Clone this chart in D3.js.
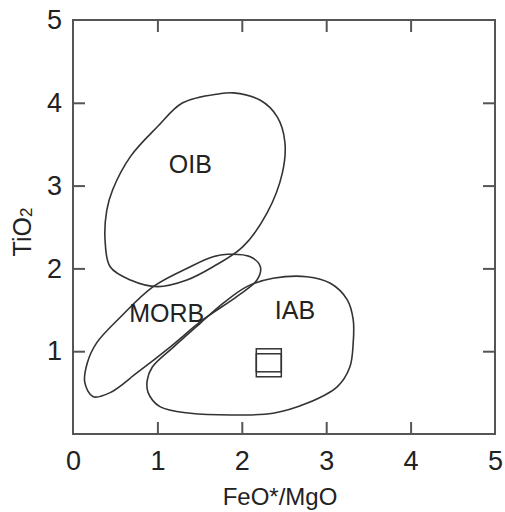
<!DOCTYPE html>
<html>
<head>
<meta charset="utf-8">
<script src="https://cdn.jsdelivr.net/npm/d3@7"></script>
<style>
  body { margin: 0; background: #fff; }
  text { font-family: "Liberation Sans", Arial, sans-serif; fill: #222; }
</style>
</head>
<body>
<div id="chart"></div>
<script>
const width = 505,
  height = 512,
  margin = { top: 20, bottom: 78, left: 73, right: 10 };

// field outlines, FeO*/MgO vs TiO2
const oib = [
  [1.90, 4.12], [2.22, 4.03], [2.42, 3.83], [2.51, 3.53], [2.48, 3.15],
  [2.30, 2.67], [2.01, 2.26], [1.66, 2.02], [1.35, 1.86], [1.00, 1.78],
  [0.68, 1.86], [0.44, 2.02], [0.38, 2.34], [0.40, 2.70], [0.47, 2.95],
  [0.68, 3.35], [1.00, 3.71], [1.30, 4.00], [1.74, 4.11]
];
const morb = [
  [1.83, 2.17], [2.10, 2.14], [2.22, 2.02], [2.18, 1.86], [1.94, 1.66],
  [1.54, 1.38], [1.15, 1.05], [0.76, 0.74], [0.44, 0.50], [0.24, 0.45],
  [0.14, 0.62], [0.17, 0.86], [0.28, 1.10], [0.56, 1.41], [0.95, 1.78],
  [1.39, 2.02], [1.66, 2.14]
];
const iab = [
  [0.94, 0.81], [1.19, 1.05], [1.51, 1.34], [1.78, 1.58], [2.06, 1.78],
  [2.37, 1.88], [2.77, 1.90], [3.05, 1.82], [3.25, 1.62], [3.32, 1.38],
  [3.32, 1.10], [3.28, 0.81], [3.13, 0.57], [2.77, 0.37], [2.37, 0.25],
  [1.98, 0.23], [1.39, 0.25], [1.03, 0.33], [0.89, 0.50], [0.88, 0.65]
];
const fieldLabels = [
  { name: "OIB", x: 1.39, y: 3.15 },
  { name: "MORB", x: 1.11, y: 1.35 },
  { name: "IAB", x: 2.63, y: 1.39 }
];
const samples = [
  [2.32, 0.89],
  [2.32, 0.83]
];
const xTicks = [0, 1, 2, 3, 4, 5];
const yTicks = [1, 2, 3, 4, 5];
const innerTicks = [1, 2, 3, 4];

const svg = d3.select("#chart")
  .append("svg")
  .attr("width", width)
  .attr("height", height);

const x = d3.scaleLinear().domain([0, 5]).range([margin.left, 495]);
const y = d3.scaleLinear().domain([0, 5]).range([434, margin.top]);

const frameColor = "#555";
const fmt = d3.format("d");

// frame
svg.append("rect")
  .attr("x", x(0))
  .attr("y", y(5))
  .attr("width", x(5) - x(0))
  .attr("height", y(0) - y(5))
  .attr("fill", "none")
  .attr("stroke", frameColor)
  .attr("stroke-width", 2);

function styleAxis(g) {
  g.select(".domain").remove();
  g.selectAll(".tick line").attr("stroke", frameColor).attr("stroke-width", 2);
  g.selectAll(".tick text").attr("font-size", 27).attr("fill", "#222");
}

// bottom: labels 0..5, ticks only 1..4
svg.append("g")
  .attr("transform", `translate(0,${y(0)})`)
  .call(d3.axisBottom(x).tickValues(xTicks).tickFormat(fmt).tickSizeInner(-12).tickSizeOuter(0).tickPadding(17))
  .call(styleAxis)
  .call(g => g.selectAll(".tick line").filter(d => d === 0 || d === 5).remove());

svg.append("g")
  .attr("transform", `translate(${x(0)},0)`)
  .call(d3.axisLeft(y).tickValues(yTicks).tickFormat(fmt).tickSizeInner(-12).tickSizeOuter(0).tickPadding(11))
  .call(styleAxis)
  .call(g => g.selectAll(".tick line").filter(d => d === 5).remove());

svg.append("g")
  .attr("transform", `translate(0,${y(5)})`)
  .call(d3.axisTop(x).tickValues(innerTicks).tickSizeInner(-12).tickSizeOuter(0).tickFormat(""))
  .call(styleAxis);

svg.append("g")
  .attr("transform", `translate(${x(5)},0)`)
  .call(d3.axisRight(y).tickValues(innerTicks).tickSizeInner(-12).tickSizeOuter(0).tickFormat(""))
  .call(styleAxis);

// axis titles
svg.append("text")
  .attr("x", (x(0) + x(5)) / 2 - 4)
  .attr("y", 505)
  .attr("text-anchor", "middle")
  .attr("font-size", 24)
  .text("FeO*/MgO");

const yTitle = svg.append("text")
  .attr("transform", `translate(31,${(y(0) + y(5)) / 2 + 5}) rotate(-90)`)
  .attr("text-anchor", "middle")
  .attr("font-size", 25);
yTitle.append("tspan").text("TiO");
yTitle.append("tspan").attr("font-size", 17).attr("dy", 1).text("2");

// fields
const line = d3.line()
  .x(d => x(d[0]))
  .y(d => y(d[1]))
  .curve(d3.curveCatmullRomClosed.alpha(0.5));

svg.selectAll("path.field")
  .data([oib, morb, iab])
  .join("path")
  .attr("class", "field")
  .attr("d", line)
  .attr("fill", "none")
  .attr("stroke", "#333")
  .attr("stroke-width", 1.6);

svg.selectAll("text.label")
  .data(fieldLabels)
  .join("text")
  .attr("class", "label")
  .attr("x", d => x(d.x))
  .attr("y", d => y(d.y))
  .attr("text-anchor", "middle")
  .attr("font-size", 25)
  .text(d => d.name);

// samples
svg.selectAll("rect.sample")
  .data(samples)
  .join("rect")
  .attr("class", "sample")
  .attr("x", d => x(d[0]) - 12.5)
  .attr("y", d => y(d[1]) - 11.5)
  .attr("width", 25)
  .attr("height", 23)
  .attr("fill", "none")
  .attr("stroke", "#333")
  .attr("stroke-width", 1.5);
</script>
</body>
</html>
